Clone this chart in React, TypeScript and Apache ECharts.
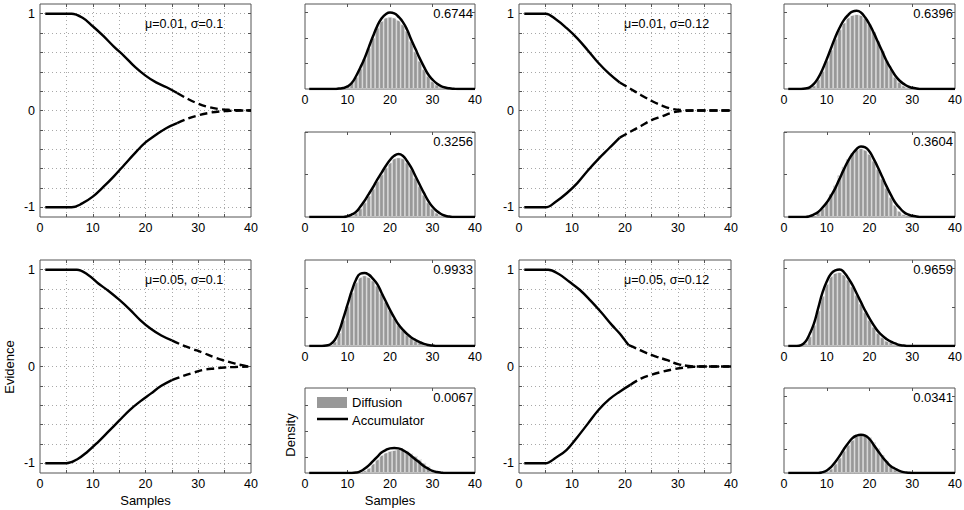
import React, { useEffect, useRef } from "react";
import * as echarts from "echarts";

const FONT = "'Liberation Sans', Arial, Helvetica, sans-serif";

// ---------- Axis ticks / labels ----------
const LARGE_X_TICKS = [5, 10, 15, 20, 25, 30, 35];
const X_LABELS = [0, 10, 20, 30, 40];
const EVIDENCE_TICKS = [-1, -0.8, -0.6, -0.4, -0.2, 0, 0.2, 0.4, 0.6, 0.8, 1];
const EVIDENCE_LABELS = [-1, 0, 1];
const SMALL_X_TICKS = [10, 20, 30];
// density axis ticks of the 8 small panels (fraction of the axis range)
const DENSITY_TICKS = [
  [0.3, 0.6, 0.9],
  [0.5, 1],
  [0.33, 0.67],
  [0.18, 0.49, 0.8],
  [0.3, 0.6, 0.9],
  [0.5, 1],
  [0.45, 0.9],
  [0.28, 0.59, 0.9],
];

// ---------- Texts ----------
const PARAM_LABELS = ["μ=0.01, σ=0.1", "μ=0.05, σ=0.1", "μ=0.01, σ=0.12", "μ=0.05, σ=0.12"];
const PROB_LABELS = ["0.6744", "0.3256", "0.9933", "0.0067", "0.6396", "0.3604", "0.9659", "0.0341"];
const LEGEND_NAMES = ["Diffusion", "Accumulator"];

// ---------- Evidence traces [sample, evidence] ----------
// Panel A: μ=0.01, σ=0.1
const upperSolidA = [[1, 1], [5, 1], [6, 1], [8, 0.96], [10, 0.87], [12, 0.77], [14, 0.66], [16, 0.56], [18, 0.45], [20, 0.36], [22, 0.29], [24, 0.24], [26, 0.18]];
const upperDashA = [[26, 0.18], [28, 0.12], [30, 0.07], [32, 0.035], [34, 0.015], [36, 0.006], [38, 0.002], [40, 0]];
const lowerSolidA = [[1, -1], [5, -1], [6, -1], [8, -0.96], [10, -0.89], [12, -0.79], [14, -0.68], [16, -0.56], [18, -0.44], [20, -0.33], [22, -0.25], [24, -0.18], [26, -0.13]];
const lowerDashA = [[26, -0.13], [28, -0.085], [30, -0.05], [32, -0.025], [34, -0.01], [36, -0.004], [38, -0.001], [40, 0]];
// Panel B: μ=0.05, σ=0.1
const upperSolidB = [[1, 1], [6, 1], [7, 1], [9, 0.95], [11, 0.86], [13, 0.78], [15, 0.69], [17, 0.59], [19, 0.48], [21, 0.39], [23, 0.32], [25, 0.27]];
const upperDashB = [[25, 0.27], [27, 0.22], [29, 0.18], [31, 0.14], [33, 0.095], [35, 0.06], [37, 0.03], [39.5, 0]];
const lowerSolidB = [[1, -1], [4, -1], [5, -1], [7, -0.96], [9, -0.88], [11, -0.78], [13, -0.67], [15, -0.56], [17, -0.45], [19, -0.36], [21, -0.28], [23, -0.2], [25, -0.14]];
const lowerDashB = [[25, -0.14], [27, -0.1], [29, -0.065], [31, -0.035], [33, -0.02], [35, -0.01], [37, -0.005], [39.5, 0]];
// Panel C: μ=0.01, σ=0.12
const upperSolidC = [[1, 1], [4, 1], [5, 1], [7, 0.94], [9, 0.85], [11, 0.745], [13, 0.62], [15, 0.49], [17, 0.38], [19, 0.29]];
const upperDashC = [[19, 0.29], [21, 0.225], [23, 0.16], [25, 0.1], [27, 0.05], [29, 0.015], [31, 0.003], [33, 0], [40, 0]];
const lowerSolidC = [[1, -1], [4, -1], [5, -1], [7, -0.94], [9, -0.855], [11, -0.75], [13, -0.62], [15, -0.5], [17, -0.39], [19, -0.28]];
const lowerDashC = [[19, -0.28], [21, -0.22], [23, -0.16], [25, -0.1], [27, -0.06], [29, -0.02], [31, -0.005], [33, 0], [40, 0]];
// Panel D: μ=0.05, σ=0.12
const upperSolidD = [[1, 1], [4.5, 1], [5.5, 1], [7.5, 0.955], [9.5, 0.875], [11.5, 0.79], [13.5, 0.68], [15.5, 0.56], [17.5, 0.43], [19, 0.34], [20, 0.27], [20.7, 0.22]];
const upperDashD = [[20.7, 0.22], [22, 0.19], [24, 0.14], [26, 0.1], [28, 0.065], [30, 0.025], [32, 0.005], [34, 0], [40, 0]];
const lowerSolidD = [[1, -1], [4, -1], [5, -1], [7, -0.94], [9, -0.86], [11, -0.73], [13, -0.59], [15, -0.45], [17, -0.34], [19, -0.26], [21, -0.19]];
const lowerDashD = [[21, -0.19], [23, -0.125], [25, -0.085], [27, -0.055], [29, -0.03], [31, -0.012], [33, -0.003], [35, 0], [40, 0]];

// ---------- Response-time densities, index = sample (0..40) ----------
const diffusion1 = [0, 0, 0, 0, 0, 0, 0, 0, 0, 0.01, 0.03, 0.07, 0.14, 0.24, 0.35, 0.48, 0.6, 0.72, 0.8, 0.84, 0.85, 0.84, 0.81, 0.76, 0.68, 0.56, 0.44, 0.33, 0.23, 0.15, 0.09, 0.05, 0.025, 0.01, 0, 0, 0, 0, 0, 0, 0];
const accumulator1 = [0, 0, 0, 0, 0, 0, 0, 0, 0.005, 0.012, 0.03, 0.07, 0.15, 0.25, 0.36, 0.49, 0.62, 0.74, 0.83, 0.88, 0.9, 0.89, 0.85, 0.79, 0.7, 0.58, 0.47, 0.36, 0.26, 0.17, 0.11, 0.065, 0.035, 0.018, 0.008, 0.003, 0, 0, 0, 0, 0];
const diffusion2 = [0, 0, 0, 0, 0, 0, 0, 0, 0, 0, 0, 0.02, 0.05, 0.1, 0.17, 0.25, 0.33, 0.42, 0.5, 0.58, 0.64, 0.69, 0.7, 0.69, 0.64, 0.56, 0.46, 0.36, 0.26, 0.17, 0.1, 0.05, 0.02, 0, 0, 0, 0, 0, 0, 0, 0];
const accumulator2 = [0, 0, 0, 0, 0, 0, 0, 0, 0, 0, 0.01, 0.03, 0.06, 0.12, 0.19, 0.27, 0.35, 0.44, 0.52, 0.6, 0.67, 0.72, 0.74, 0.72, 0.66, 0.58, 0.48, 0.38, 0.28, 0.19, 0.12, 0.07, 0.035, 0.015, 0.005, 0, 0, 0, 0, 0, 0];
const diffusion3 = [0, 0, 0, 0, 0, 0, 0.01, 0.05, 0.15, 0.3, 0.46, 0.62, 0.74, 0.8, 0.82, 0.8, 0.76, 0.7, 0.61, 0.51, 0.41, 0.32, 0.24, 0.18, 0.13, 0.09, 0.06, 0.04, 0.02, 0.01, 0, 0, 0, 0, 0, 0, 0, 0, 0, 0, 0];
const accumulator3 = [0, 0, 0, 0, 0, 0.005, 0.02, 0.07, 0.17, 0.32, 0.48, 0.64, 0.77, 0.84, 0.85, 0.83, 0.78, 0.72, 0.62, 0.52, 0.42, 0.33, 0.25, 0.19, 0.14, 0.1, 0.07, 0.045, 0.025, 0.012, 0.005, 0, 0, 0, 0, 0, 0, 0, 0, 0, 0];
const diffusion4 = [0, 0, 0, 0, 0, 0, 0, 0, 0, 0, 0, 0, 0, 0.01, 0.03, 0.06, 0.11, 0.16, 0.21, 0.24, 0.26, 0.27, 0.28, 0.28, 0.26, 0.23, 0.2, 0.16, 0.12, 0.08, 0.04, 0.02, 0, 0, 0, 0, 0, 0, 0, 0, 0];
const accumulator4 = [0, 0, 0, 0, 0, 0, 0, 0, 0, 0, 0, 0, 0.005, 0.02, 0.05, 0.09, 0.14, 0.19, 0.24, 0.27, 0.29, 0.295, 0.29, 0.27, 0.24, 0.2, 0.16, 0.12, 0.08, 0.05, 0.025, 0.012, 0.004, 0, 0, 0, 0, 0, 0, 0, 0];
const diffusion5 = [0, 0, 0, 0, 0, 0, 0, 0.04, 0.11, 0.21, 0.33, 0.46, 0.59, 0.7, 0.78, 0.84, 0.87, 0.88, 0.87, 0.83, 0.76, 0.67, 0.56, 0.45, 0.33, 0.23, 0.14, 0.08, 0.04, 0.02, 0, 0, 0, 0, 0, 0, 0, 0, 0, 0, 0];
const accumulator5 = [0, 0, 0, 0, 0, 0.005, 0.02, 0.06, 0.13, 0.23, 0.35, 0.48, 0.61, 0.72, 0.81, 0.87, 0.91, 0.92, 0.9, 0.84, 0.76, 0.66, 0.55, 0.44, 0.33, 0.24, 0.16, 0.1, 0.06, 0.03, 0.015, 0.006, 0, 0, 0, 0, 0, 0, 0, 0, 0];
const diffusion6 = [0, 0, 0, 0, 0, 0, 0, 0, 0.05, 0.1, 0.17, 0.27, 0.37, 0.49, 0.59, 0.68, 0.75, 0.79, 0.81, 0.79, 0.74, 0.66, 0.56, 0.45, 0.34, 0.23, 0.14, 0.07, 0.03, 0, 0, 0, 0, 0, 0, 0, 0, 0, 0, 0, 0];
const accumulator6 = [0, 0, 0, 0, 0, 0, 0.01, 0.03, 0.06, 0.11, 0.17, 0.25, 0.34, 0.45, 0.56, 0.66, 0.74, 0.8, 0.83, 0.82, 0.77, 0.68, 0.58, 0.47, 0.36, 0.26, 0.17, 0.11, 0.06, 0.03, 0.015, 0.006, 0, 0, 0, 0, 0, 0, 0, 0, 0];
const diffusion7 = [0, 0, 0, 0, 0, 0.03, 0.11, 0.24, 0.41, 0.58, 0.72, 0.81, 0.85, 0.86, 0.83, 0.77, 0.69, 0.59, 0.49, 0.39, 0.3, 0.22, 0.15, 0.1, 0.06, 0.04, 0.02, 0, 0, 0, 0, 0, 0, 0, 0, 0, 0, 0, 0, 0, 0];
const accumulator7 = [0, 0, 0, 0, 0.01, 0.05, 0.14, 0.26, 0.44, 0.62, 0.75, 0.84, 0.88, 0.89, 0.86, 0.79, 0.71, 0.61, 0.51, 0.41, 0.32, 0.24, 0.17, 0.12, 0.08, 0.05, 0.03, 0.012, 0.005, 0, 0, 0, 0, 0, 0, 0, 0, 0, 0, 0, 0];
const diffusion8 = [0, 0, 0, 0, 0, 0, 0, 0, 0, 0, 0.02, 0.05, 0.11, 0.18, 0.26, 0.33, 0.39, 0.43, 0.45, 0.45, 0.42, 0.36, 0.29, 0.21, 0.14, 0.08, 0.04, 0.02, 0, 0, 0, 0, 0, 0, 0, 0, 0, 0, 0, 0, 0];
const accumulator8 = [0, 0, 0, 0, 0, 0, 0, 0, 0, 0.01, 0.03, 0.07, 0.13, 0.2, 0.28, 0.35, 0.41, 0.44, 0.45, 0.44, 0.4, 0.33, 0.26, 0.19, 0.13, 0.08, 0.05, 0.025, 0.01, 0.004, 0, 0, 0, 0, 0, 0, 0, 0, 0, 0, 0];

const LARGE_TRACES = [
  [upperSolidA, upperDashA, lowerSolidA, lowerDashA],
  [upperSolidB, upperDashB, lowerSolidB, lowerDashB],
  [upperSolidC, upperDashC, lowerSolidC, lowerDashC],
  [upperSolidD, upperDashD, lowerSolidD, lowerDashD],
];
const SMALL_DENSITIES = [
  [diffusion1, accumulator1],
  [diffusion2, accumulator2],
  [diffusion3, accumulator3],
  [diffusion4, accumulator4],
  [diffusion5, accumulator5],
  [diffusion6, accumulator6],
  [diffusion7, accumulator7],
  [diffusion8, accumulator8],
];

// ---------- Layout ----------
type Box = { left: number; top: number; width: number; height: number };
const LARGE_BOXES: Box[] = [
  { left: 40, top: 4, width: 211, height: 213 },
  { left: 40, top: 260, width: 211, height: 213 },
  { left: 519, top: 4, width: 212, height: 213 },
  { left: 519, top: 260, width: 212, height: 213 },
];
const ROWS = [
  { top: 4, height: 85 },
  { top: 132, height: 85 },
  { top: 260, height: 86 },
  { top: 388, height: 85 },
];
const SMALL_BOXES: Box[] = [
  ...ROWS.map((r) => ({ left: 305, top: r.top, width: 170, height: r.height })),
  ...ROWS.map((r) => ({ left: 784, top: r.top, width: 171, height: r.height })),
];

const BORDER = "#555";
const BAR_GRAY = "#989898";

function buildOption() {
  const grid: any[] = [];
  const xAxis: any[] = [];
  const yAxis: any[] = [];
  const series: any[] = [];
  const graphic: any[] = [];

  const tick = (values: number[]) => ({
    show: true,
    inside: true,
    length: 3,
    customValues: values,
    lineStyle: { color: BORDER, width: 1 },
  });
  const labelStyle = { color: "#000", fontSize: 12.5, fontFamily: FONT };
  const dotted = { show: true, lineStyle: { color: "#a8a8a8", width: 1, type: [1, 3] } };
  const noLine = { show: false, onZero: false };

  const addGrid = (b: Box) => {
    grid.push({
      left: b.left,
      top: b.top,
      width: b.width,
      height: b.height,
      show: true,
      borderColor: BORDER,
      borderWidth: 1,
      backgroundColor: "transparent",
      containLabel: false,
      outerBoundsMode: "none",
    });
    return grid.length - 1;
  };

  const addAxes = (
    g: number,
    xTicks: number[],
    yMin: number,
    yMax: number,
    yTicks: number[],
    yLabels: number[] | null,
    withGrid: boolean
  ) => {
    xAxis.push({
      type: "value",
      gridIndex: g,
      min: 0,
      max: 40,
      position: "bottom",
      axisLine: noLine,
      axisTick: tick(xTicks),
      axisLabel: { show: true, customValues: X_LABELS, margin: 4, ...labelStyle },
      splitLine: withGrid ? dotted : { show: false },
    });
    xAxis.push({
      type: "value",
      gridIndex: g,
      min: 0,
      max: 40,
      position: "top",
      axisLine: noLine,
      axisTick: tick(xTicks),
      axisLabel: { show: false },
      splitLine: { show: false },
    });
    yAxis.push({
      type: "value",
      gridIndex: g,
      min: yMin,
      max: yMax,
      position: "left",
      axisLine: noLine,
      axisTick: tick(yTicks),
      axisLabel: yLabels
        ? { show: true, customValues: yLabels, margin: 5, ...labelStyle }
        : { show: false },
      splitLine: withGrid ? dotted : { show: false },
    });
    yAxis.push({
      type: "value",
      gridIndex: g,
      min: yMin,
      max: yMax,
      position: "right",
      axisLine: noLine,
      axisTick: tick(yTicks),
      axisLabel: { show: false },
      splitLine: { show: false },
    });
    return xAxis.length - 2;
  };

  // Large evidence panels
  LARGE_BOXES.forEach((b, i) => {
    const g = addGrid(b);
    const ax = addAxes(g, LARGE_X_TICKS, -1.1, 1.1, EVIDENCE_TICKS, EVIDENCE_LABELS, true);
    LARGE_TRACES[i].forEach((trace, k) => {
      series.push({
        type: "line",
        name: "evidence",
        xAxisIndex: ax,
        yAxisIndex: ax,
        data: trace,
        symbol: "none",
        showSymbol: false,
        smooth: 0.4,
        silent: true,
        z: 5,
        lineStyle: { color: "#000", width: 2.4, type: k % 2 === 1 ? [8, 4] : "solid" },
      });
    });
    graphic.push({
      type: "text",
      x: b.left + 105,
      y: b.top + 20,
      silent: true,
      style: { text: PARAM_LABELS[i], fill: "#000", font: `12.5px ${FONT}`, align: "left", verticalAlign: "middle" },
    });
  });

  // Small density panels
  SMALL_BOXES.forEach((b, i) => {
    const g = addGrid(b);
    const ax = addAxes(g, SMALL_X_TICKS, 0, 1, DENSITY_TICKS[i], null, false);
    const [diff, acc] = SMALL_DENSITIES[i];
    const bars = diff.map((v, x) => [x, v]).filter((p) => p[1] > 0);
    series.push({
      type: "bar",
      name: LEGEND_NAMES[0],
      xAxisIndex: ax,
      yAxisIndex: ax,
      data: bars,
      barWidth: 4.2,
      silent: true,
      z: 2,
      itemStyle: { color: BAR_GRAY, borderColor: "#d4d4d4", borderWidth: 0.7 },
    });
    series.push({
      type: "line",
      name: "fit",
      xAxisIndex: ax,
      yAxisIndex: ax,
      data: bars,
      symbol: "none",
      smooth: 0.5,
      silent: true,
      z: 3,
      lineStyle: { color: "#ffffff", width: 1 },
    });
    series.push({
      type: "line",
      name: LEGEND_NAMES[1],
      xAxisIndex: ax,
      yAxisIndex: ax,
      data: acc.map((v, x) => [x, v]).filter((p) => p[0] >= 1),
      symbol: "none",
      showSymbol: false,
      smooth: 0.5,
      silent: true,
      z: 4,
      lineStyle: { color: "#000", width: 2.5 },
    });
    graphic.push({
      type: "text",
      x: b.left + b.width - 2,
      y: b.top + 9,
      silent: true,
      style: { text: PROB_LABELS[i], fill: "#000", font: `13px ${FONT}`, align: "right", verticalAlign: "middle" },
    });
  });

  // Legend inside the "0.0067" panel
  const lb = SMALL_BOXES[3];
  graphic.push(
    {
      type: "rect",
      silent: true,
      shape: { x: lb.left + 12, y: lb.top + 9, width: 30, height: 11 },
      style: { fill: BAR_GRAY },
    },
    {
      type: "line",
      silent: true,
      shape: { x1: lb.left + 12, y1: lb.top + 31, x2: lb.left + 43, y2: lb.top + 31 },
      style: { stroke: "#000", lineWidth: 2.5 },
    },
    {
      type: "text",
      x: lb.left + 47,
      y: lb.top + 14.5,
      silent: true,
      style: { text: LEGEND_NAMES[0], fill: "#000", font: `13px ${FONT}`, align: "left", verticalAlign: "middle" },
    },
    {
      type: "text",
      x: lb.left + 47,
      y: lb.top + 32,
      silent: true,
      style: { text: LEGEND_NAMES[1], fill: "#000", font: `13px ${FONT}`, align: "left", verticalAlign: "middle" },
    }
  );

  // Axis titles
  graphic.push(
    {
      type: "text",
      x: 9,
      y: 367,
      rotation: Math.PI / 2,
      silent: true,
      style: { text: "Evidence", fill: "#000", font: `13px ${FONT}`, align: "center", verticalAlign: "middle" },
    },
    {
      type: "text",
      x: 290,
      y: 435,
      rotation: Math.PI / 2,
      silent: true,
      style: { text: "Density", fill: "#000", font: `13px ${FONT}`, align: "center", verticalAlign: "middle" },
    },
    {
      type: "text",
      x: 145.5,
      y: 500,
      silent: true,
      style: { text: "Samples", fill: "#000", font: `13px ${FONT}`, align: "center", verticalAlign: "middle" },
    },
    {
      type: "text",
      x: 390,
      y: 500,
      silent: true,
      style: { text: "Samples", fill: "#000", font: `13px ${FONT}`, align: "center", verticalAlign: "middle" },
    }
  );

  return {
    animation: false,
    backgroundColor: "#ffffff",
    textStyle: { fontFamily: FONT },
    grid,
    xAxis,
    yAxis,
    series,
    graphic,
  };
}

export default function App() {
  const ref = useRef<HTMLDivElement>(null);
  useEffect(() => {
    if (!ref.current) return;
    const chart = echarts.init(ref.current, undefined, { renderer: "svg" });
    chart.setOption(buildOption() as any);
    return () => chart.dispose();
  }, []);
  return (
    <div
      ref={ref}
      style={{ position: "absolute", left: 0, top: 0, width: 964, height: 510, background: "#fff" }}
    />
  );
}
